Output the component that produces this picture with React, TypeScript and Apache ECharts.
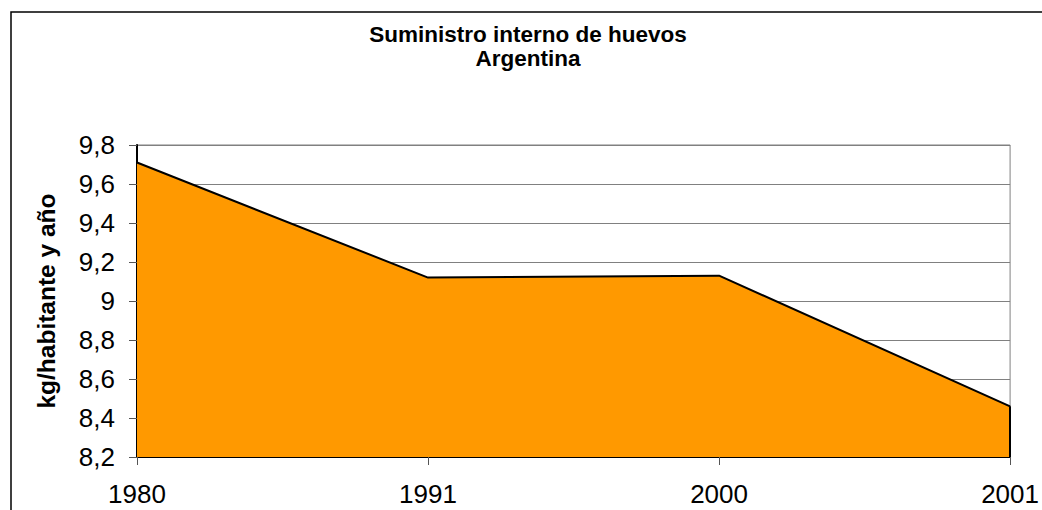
import React, { useEffect, useRef } from "react";
import * as echarts from "echarts";

const years = ["1980", "1991", "2000", "2001"];
const supply = [9.71, 9.12, 9.13, 8.46];
const yMin = 8.2;
const yMax = 9.8;
const yStep = 0.2;
const titleLines = ["Suministro interno de huevos", "Argentina"];
const yAxisTitle = "kg/habitante y año";

export default function App() {
  const ref = useRef<HTMLDivElement>(null);
  useEffect(() => {
    if (!ref.current) return;
    const chart = echarts.init(ref.current, null, { renderer: "svg" });
    const font = "Liberation Sans, Arial, sans-serif";
    const last = years.length - 1;
    chart.setOption({
      animation: false,
      backgroundColor: "#ffffff",
      title: {
        text: titleLines.join("\n"),
        left: 523,
        textAlign: "center",
        top: 17,
        textStyle: {
          fontFamily: font,
          fontWeight: "bold",
          fontSize: 22.5,
          lineHeight: 24,
          color: "#000",
        },
      },
      graphic: [
        {
          type: "rect",
          shape: { x: 11, y: 12, width: 1200, height: 700 },
          style: { fill: "none", stroke: "#000", lineWidth: 1.5 },
          silent: true,
        },
      ],
      grid: {
        left: 137,
        right: 30,
        top: 145,
        bottom: 53,
        show: true,
        borderColor: "#808080",
        borderWidth: 1,
        backgroundColor: "transparent",
      },
      xAxis: {
        type: "category",
        data: years,
        boundaryGap: false,
        axisLine: { lineStyle: { color: "#000", width: 2 } },
        axisTick: { show: true, length: 8, lineStyle: { color: "#555" } },
        axisLabel: {
          fontFamily: font,
          fontSize: 26,
          color: "#000",
          margin: 24,
        },
        splitLine: { show: false },
      },
      yAxis: {
        type: "value",
        min: yMin,
        max: yMax,
        interval: yStep,
        name: yAxisTitle,
        nameLocation: "middle",
        nameRotate: 90,
        nameGap: 78,
        nameTextStyle: {
          fontFamily: font,
          fontSize: 24.5,
          fontWeight: "bold",
          color: "#000",
        },
        axisLine: { show: true, lineStyle: { color: "#000", width: 2 } },
        axisTick: { show: true, length: 8, lineStyle: { color: "#555" } },
        axisLabel: {
          fontFamily: font,
          fontSize: 26,
          color: "#000",
          margin: 22,
          formatter: (v: number) => {
            const r = Math.round(v * 10) / 10;
            return String(r).replace(".", ",");
          },
        },
        splitLine: { show: true, lineStyle: { color: "#808080", width: 1 } },
      },
      series: [
        {
          type: "line",
          data: supply,
          symbol: "none",
          lineStyle: { color: "#000", width: 2 },
          areaStyle: { color: "#FF9900", opacity: 1, origin: "start" },
          z: 3,
          markLine: {
            silent: true,
            symbol: "none",
            label: { show: false },
            lineStyle: { color: "#000", width: 2, type: "solid" },
            data: [
              [
                { coord: [years[last], yMin] },
                { coord: [years[last], supply[last]] },
              ],
            ],
          },
        },
      ],
    });
    return () => chart.dispose();
  }, []);
  return (
    <div
      ref={ref}
      style={{ position: "fixed", left: 0, top: 0, width: 1042, height: 510 }}
    />
  );
}
